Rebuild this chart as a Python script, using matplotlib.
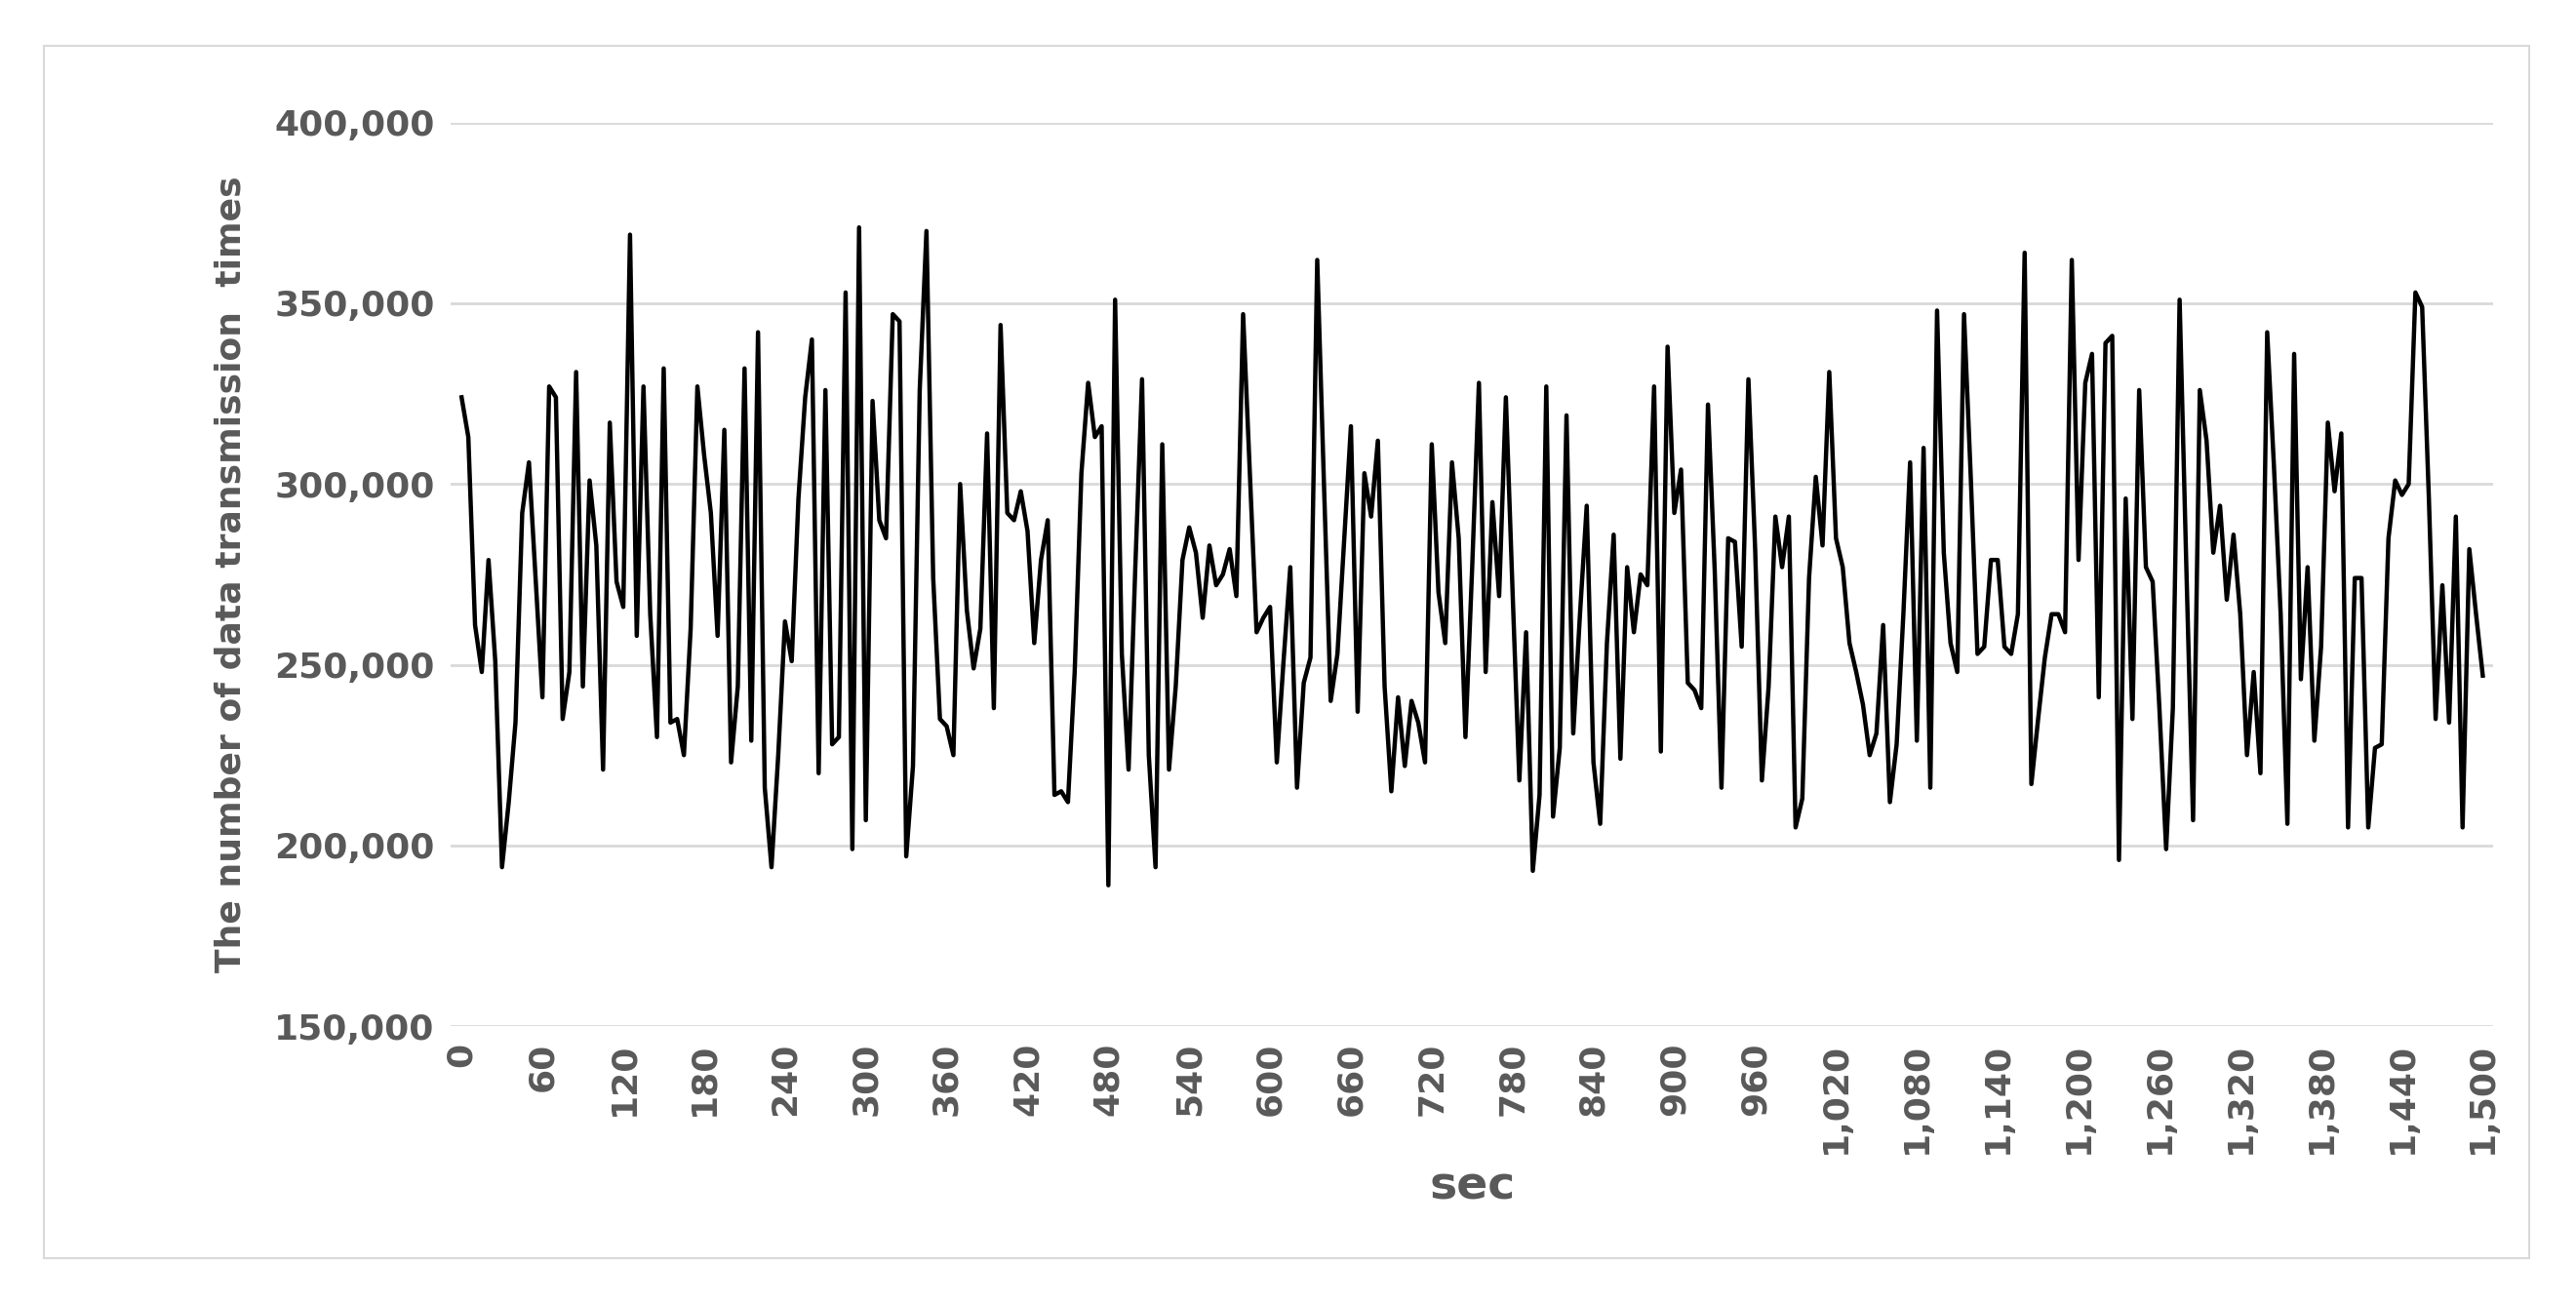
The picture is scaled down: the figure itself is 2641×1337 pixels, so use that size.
import matplotlib
matplotlib.use("Agg")
import matplotlib.pyplot as plt
from matplotlib.patches import Rectangle
from matplotlib.ticker import FuncFormatter

# ---------------- Data (values in thousands) ----------------
sec = [0, 5, 10, 15, 20, 25, 30, 35, 40, 45, 50, 60, 65, 70, 75, 80, 85, 90, 95, 100,
       105, 110, 115, 120, 125, 130, 135, 140, 145, 150, 155, 160, 165, 170, 175, 180, 185, 190, 195, 200,
       205, 210, 215, 220, 225, 230, 235, 240, 245, 250, 255, 260, 265, 270, 275, 280, 285, 290, 295, 300,
       305, 310, 315, 320, 325, 330, 335, 340, 345, 350, 355, 360, 365, 370, 375, 380, 385, 390, 395, 400,
       405, 410, 415, 420, 425, 430, 435, 440, 445, 450, 455, 460, 465, 470, 475, 480, 485, 490, 495, 500,
       505, 510, 515, 520, 525, 530, 535, 540, 545, 550, 555, 560, 565, 570, 575, 580, 585, 590, 595, 600,
       605, 610, 615, 620, 625, 630, 635, 640, 645, 650, 660, 665, 670, 675, 680, 685, 690, 695, 700,
       705, 710, 715, 720, 725, 730, 735, 740, 745, 750, 755, 760, 765, 770, 775, 780, 785, 790, 795, 800,
       805, 810, 815, 820, 825, 830, 835, 840, 845, 850, 855, 860, 865, 870, 875, 880, 885, 890, 895, 900,
       905, 910, 915, 920, 925, 930, 935, 940, 945, 950, 955, 960, 965, 970, 975, 980, 985, 990, 995, 1000,
       1005, 1010, 1015, 1020, 1025, 1030, 1035, 1040, 1045, 1050, 1055, 1060, 1065, 1070, 1075, 1080, 1085, 1090, 1095, 1100,
       1105, 1110, 1115, 1120, 1125, 1130, 1135, 1140, 1145, 1150, 1155, 1160, 1165, 1170, 1175, 1180, 1185, 1190, 1195, 1200,
       1205, 1210, 1215, 1220, 1225, 1230, 1235, 1240, 1245, 1250, 1255, 1260, 1265, 1270, 1275, 1280, 1285, 1290, 1295, 1300,
       1305, 1310, 1315, 1320, 1325, 1330, 1335, 1340, 1345, 1350, 1355, 1360, 1365, 1370, 1375, 1380, 1385, 1390, 1395, 1400,
       1405, 1410, 1415, 1420, 1425, 1430, 1435, 1440, 1445, 1450, 1455, 1460, 1465, 1470, 1475, 1480, 1485, 1490, 1495, 1500]
counts_k = [324, 313, 261, 248, 279, 251, 194, 212, 234, 292, 306, 241, 327, 324, 235, 248, 331, 244, 301, 283,
            221, 317, 273, 266, 369, 258, 327, 264, 230, 332, 234, 235, 225, 260, 327, 308, 292, 258, 315, 223,
            244, 332, 229, 342, 216, 194, 225, 262, 251, 296, 324, 340, 220, 326, 228, 230, 353, 199, 371, 207,
            323, 290, 285, 347, 345, 197, 222, 326, 370, 274, 235, 233, 225, 300, 265, 249, 260, 314, 238, 344,
            292, 290, 298, 287, 256, 279, 290, 214, 215, 212, 248, 303, 328, 313, 316, 189, 351, 253, 221, 277,
            329, 225, 194, 311, 221, 244, 279, 288, 281, 263, 283, 272, 275, 282, 269, 347, 303, 259, 263, 266,
            223, 251, 277, 216, 245, 252, 362, 300, 240, 253, 316, 237, 303, 291, 312, 244, 215, 241, 222,
            240, 234, 223, 311, 270, 256, 306, 285, 230, 277, 328, 248, 295, 269, 324, 270, 218, 259, 193, 214,
            327, 208, 227, 319, 231, 264, 294, 223, 206, 256, 286, 224, 277, 259, 275, 272, 327, 226, 338, 292,
            304, 245, 243, 238, 322, 276, 216, 285, 284, 255, 329, 282, 218, 244, 291, 277, 291, 205, 213, 274,
            302, 283, 331, 285, 277, 256, 248, 239, 225, 231, 261, 212, 228, 264, 306, 229, 310, 216, 348, 281,
            256, 248, 347, 302, 253, 255, 279, 279, 255, 253, 264, 364, 217, 235, 252, 264, 264, 259, 362, 279,
            328, 336, 241, 339, 341, 196, 296, 235, 326, 277, 273, 238, 199, 238, 351, 277, 207, 326, 312, 281,
            294, 268, 286, 264, 225, 248, 220, 342, 305, 264, 206, 336, 246, 277, 229, 255, 317, 298, 314, 205,
            274, 274, 205, 227, 228, 285, 301, 297, 300, 353, 349, 296, 235, 272, 234, 291, 205, 282, 264, 247]
counts = [v * 1000 for v in counts_k]
x_ticks = list(range(0, 1501, 60))
y_ticks = [150000, 200000, 250000, 300000, 350000, 400000]

# ---------------- Plot ----------------
TXT = "#595959"
fig = plt.figure(figsize=(26.41, 13.37), dpi=100)
fig.patches.append(Rectangle((0.017, 0.035), 0.965, 0.93, transform=fig.transFigure,
                             fill=False, edgecolor="#d9d9d9", linewidth=1.5))
ax = fig.add_axes([0.175, 0.213, 0.793, 0.693])
ax.plot(sec, counts, color="black", linewidth=3.2)

ax.set_xlim(-8, 1508)
ax.set_ylim(150000, 400000)
ax.set_xticks(x_ticks)
ax.set_xticklabels([f"{t:,}" for t in x_ticks], rotation=90)
ax.set_yticks(y_ticks)
ax.yaxis.set_major_formatter(FuncFormatter(lambda v, p: f"{int(v):,}"))
ax.grid(axis="y", color="#d9d9d9", linewidth=2)
ax.set_axisbelow(True)
for s in ax.spines.values():
    s.set_visible(False)
ax.tick_params(length=0, labelsize=26, labelcolor=TXT, pad=12)
for lbl in ax.get_xticklabels() + ax.get_yticklabels():
    lbl.set_fontweight("bold")
ax.set_xlabel("sec", fontsize=34, fontweight="bold", color=TXT, labelpad=8)
ax.set_ylabel("The number of data transmission  times", fontsize=26, fontweight="bold",
              color=TXT, labelpad=20)

plt.savefig("out.png", dpi=100)
